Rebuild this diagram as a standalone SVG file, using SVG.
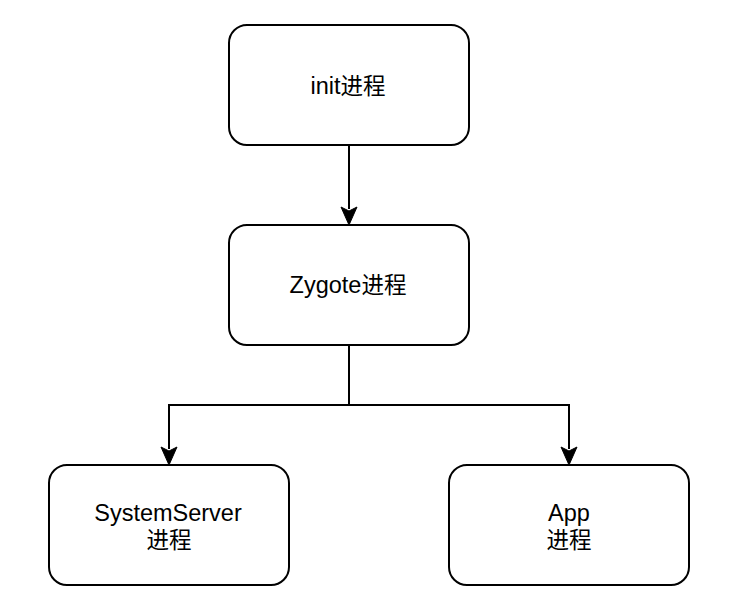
<svg xmlns="http://www.w3.org/2000/svg" width="732" height="616" viewBox="0 0 732 616">
<style>
.box{fill:#ffffff;stroke:#000000;stroke-width:2}
.lbl{font-family:"Liberation Sans","Noto Sans CJK SC",sans-serif;font-size:23.5px;fill:#000000;text-anchor:middle}
.cjk{font-family:"Noto Sans CJK SC",sans-serif;font-size:22.5px}
.edge{fill:none;stroke:#000000;stroke-width:2}
.head{fill:#000000;stroke:#000000;stroke-width:1}
</style>
<rect width="732" height="616" fill="#ffffff"/>
<g id="connectors">
<path class="edge" d="M349,145 L349,209"/>
<path class="head" d="M349,225 L341,207 L349,211 L357,207 Z"/>
<path class="edge" d="M349,345 L349,405 L169,405 L169,449"/>
<path class="head" d="M169,465 L161,447 L169,451 L177,447 Z"/>
<path class="edge" d="M349,405 L569,405 L569,449"/>
<path class="head" d="M569,465 L561,447 L569,451 L577,447 Z"/>
</g>
<g id="init">
<rect class="box" x="229" y="25" width="240" height="120" rx="18" ry="18"/>
<text class="lbl" x="348" y="94">init<tspan class="cjk">进程</tspan></text>
</g>
<g id="zygote">
<rect class="box" x="229" y="225" width="240" height="120" rx="18" ry="18"/>
<text class="lbl" x="348" y="293">Zygote<tspan class="cjk">进程</tspan></text>
</g>
<g id="systemserver">
<rect class="box" x="49" y="465" width="240" height="120" rx="18" ry="18"/>
<text class="lbl" x="168" y="521">SystemServer</text>
<text class="lbl cjk" x="169" y="548">进程</text>
</g>
<g id="app">
<rect class="box" x="449" y="465" width="240" height="120" rx="18" ry="18"/>
<text class="lbl" x="569" y="521">App</text>
<text class="lbl cjk" x="569" y="548">进程</text>
</g>
</svg>
